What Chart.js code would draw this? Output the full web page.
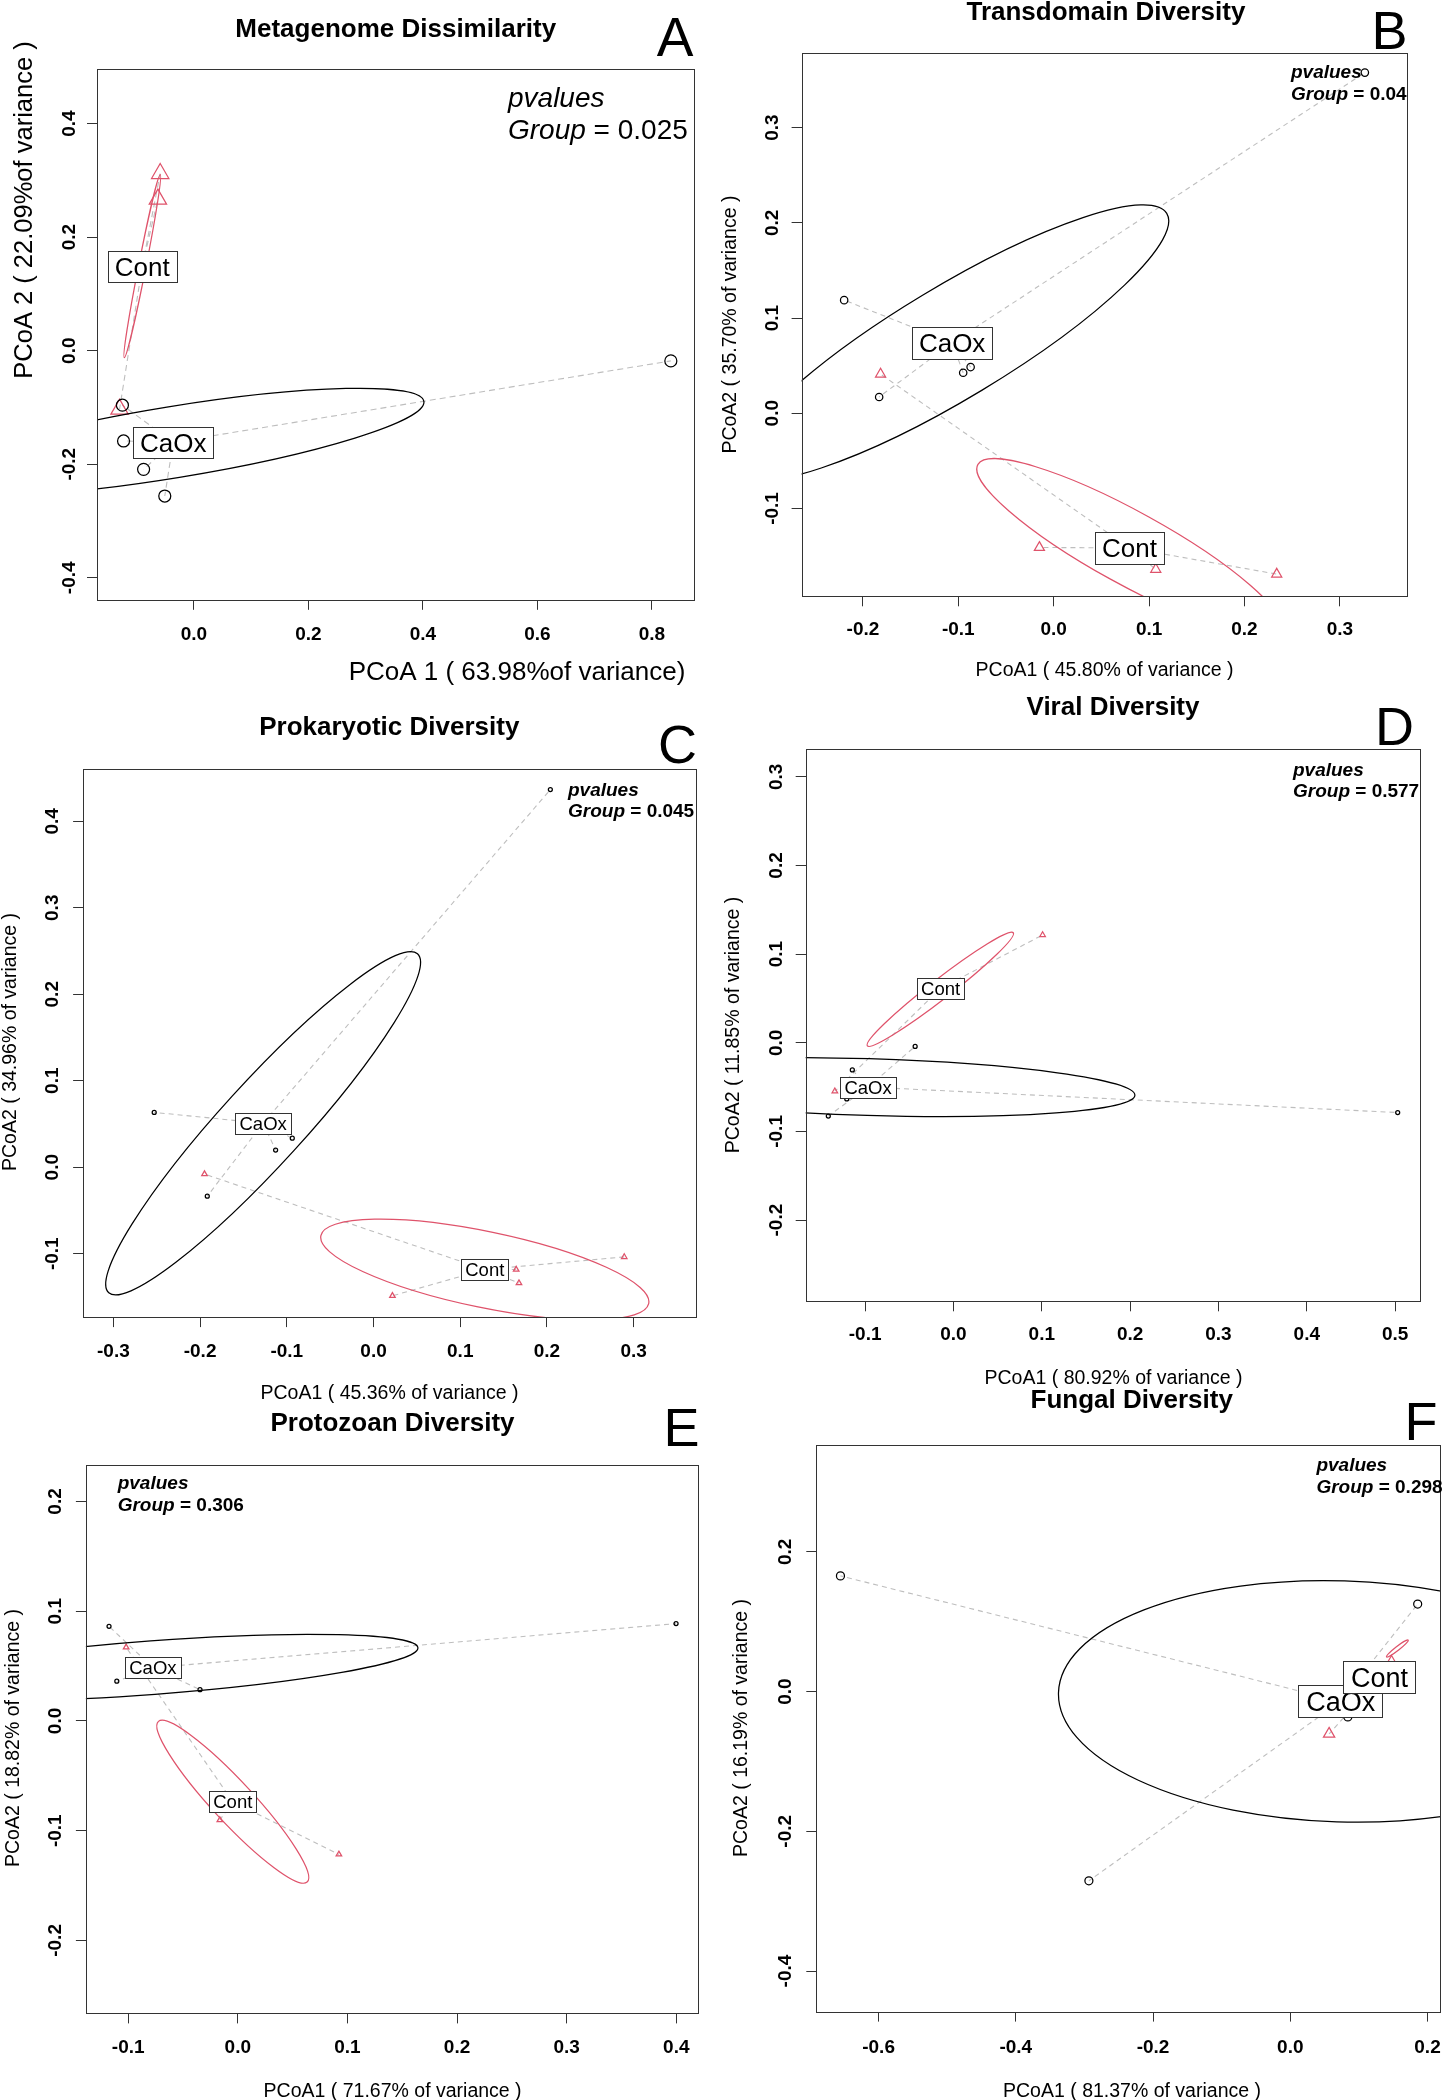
<!DOCTYPE html>
<html>
<head>
<meta charset="utf-8">
<script src="https://cdn.jsdelivr.net/npm/chart.js@4.4.1/dist/chart.umd.min.js"></script>
<style>
  body { margin: 0; background: #fff; }
  #page { position: relative; width: 1448px; height: 2100px; overflow: hidden; }
  #page canvas { position: absolute; }
</style>
</head>
<body>
<div id="page">
  <canvas id="pA"></canvas>
  <canvas id="pB"></canvas>
  <canvas id="pC"></canvas>
  <canvas id="pD"></canvas>
  <canvas id="pE"></canvas>
  <canvas id="pF"></canvas>
</div>
<script>
// ---------- data ----------

// A - Metagenome Dissimilarity
const aXRange = [-0.1694, 0.8726];
const aYRange = [-0.4388, 0.496];
const aXTicks = [0, 0.2, 0.4, 0.6, 0.8];
const aXTickLabels = ['0.0', '0.2', '0.4', '0.6', '0.8'];
const aYTicks = [-0.4, -0.2, 0, 0.2, 0.4];
const aYTickLabels = ['-0.4', '-0.2', '0.0', '0.2', '0.4'];
const aCaOxX = [0.833, -0.125, -0.123, -0.088, -0.051];
const aCaOxY = [-0.018, -0.096, -0.159, -0.209, -0.256];
const aContX = [-0.059, -0.063, -0.130];
const aContY = [0.312, 0.267, -0.103];
const aCaOxCentre = [-0.0363, -0.1612];
const aContCentre = [-0.0903, 0.1488];
// ellipse = centre x, centre y, first semi-axis (x, y), second semi-axis (x, y)
const aCaOxEllipse = [-0.0363, -0.1612, 0.4379, 0.0721, 0.0110, -0.0618];
const aContEllipse = [-0.0903, 0.1488, 0.0315, 0.1612, 0.0064, -0.0012];

// B - Transdomain Diversity
const bXRange = [-0.2643, 0.3708];
const bYRange = [-0.1923, 0.3786];
const bXTicks = [-0.2, -0.1, 0, 0.1, 0.2, 0.3];
const bXTickLabels = ['-0.2', '-0.1', '0.0', '0.1', '0.2', '0.3'];
const bYTicks = [-0.1, 0, 0.1, 0.2, 0.3];
const bYTickLabels = ['-0.1', '0.0', '0.1', '0.2', '0.3'];
const bCaOxX = [0.3262, -0.2197, -0.0949, -0.0871, -0.183];
const bCaOxY = [0.3578, 0.1188, 0.0425, 0.0485, 0.0171];
const bContX = [-0.1815, -0.015, 0.107, 0.2338];
const bContY = [0.0411, -0.141, -0.164, -0.169];
const bCaOxCentre = [-0.1065, 0.0740];
const bContCentre = [0.0794, -0.1415];
const bCaOxEllipse = [-0.1065, 0.0740, 0.225, 0.136, 0.031, -0.050];
const bContEllipse = [0.0794, -0.1415, 0.1588, -0.0878, -0.0199, -0.0328];

// C - Prokaryotic Diversity
const cXRange = [-0.3349, 0.3722];
const cYRange = [-0.1733, 0.4602];
const cXTicks = [-0.3, -0.2, -0.1, 0, 0.1, 0.2, 0.3];
const cXTickLabels = ['-0.3', '-0.2', '-0.1', '0.0', '0.1', '0.2', '0.3'];
const cYTicks = [-0.1, 0, 0.1, 0.2, 0.3, 0.4];
const cYTickLabels = ['-0.1', '0.0', '0.1', '0.2', '0.3', '0.4'];
const cCaOxX = [0.2039, -0.2529, -0.1129, -0.0937, -0.1917];
const cCaOxY = [0.4366, 0.0634, 0.0199, 0.0335, -0.0335];
const cContX = [-0.1949, 0.0218, 0.1645, 0.1677, 0.2891];
const cContY = [-0.0079, -0.1487, -0.1183, -0.134, -0.1037];
const cCaOxCentre = [-0.1273, 0.0508];
const cContCentre = [0.1283, -0.1183];
const cCaOxEllipse = [-0.1273, 0.0508, 0.178, 0.196, 0.0357, -0.0314];
const cContEllipse = [0.1283, -0.1183, 0.189, -0.0393, -0.00926, -0.0430];

// D - Viral Diversity
const dXRange = [-0.1673, 0.5285];
const dYRange = [-0.2916, 0.331];
const dXTicks = [-0.1, 0, 0.1, 0.2, 0.3, 0.4, 0.5];
const dXTickLabels = ['-0.1', '0.0', '0.1', '0.2', '0.3', '0.4', '0.5'];
const dYTicks = [-0.2, -0.1, 0, 0.1, 0.2, 0.3];
const dYTickLabels = ['-0.2', '-0.1', '0.0', '0.1', '0.2', '0.3'];
const dCaOxX = [0.5029, -0.0434, -0.1145, -0.1208, -0.1417];
const dCaOxY = [-0.0787, -0.0041, -0.0306, -0.0633, -0.0827];
const dContX = [0.1009, -0.1343];
const dContY = [0.1216, -0.0546];
const dCaOxCentre = [-0.0967, -0.05];
const dContCentre = [-0.0146, 0.0613];
const dCaOxEllipse = [-0.0967, -0.05, 0.3021, -0.0092, -0.00102, -0.0320];
const dContEllipse = [-0.0149, 0.0603, 0.0826, 0.0638, 0.0071, -0.0088];

// E - Protozoan Diversity
const eXRange = [-0.1386, 0.420];
const eYRange = [-0.2665, 0.2335];
const eXTicks = [-0.1, 0, 0.1, 0.2, 0.3, 0.4];
const eXTickLabels = ['-0.1', '0.0', '0.1', '0.2', '0.3', '0.4'];
const eYTicks = [-0.2, -0.1, 0, 0.1, 0.2];
const eYTickLabels = ['-0.2', '-0.1', '0.0', '0.1', '0.2'];
const eCaOxX = [0.3998, -0.1175, -0.1104, -0.0345];
const eCaOxY = [0.0887, 0.0862, 0.0362, 0.0285];
const eContX = [-0.1019, -0.0164, 0.0922];
const eContY = [0.0671, -0.0903, -0.1216];
const eCaOxCentre = [-0.0775, 0.0486];
const eContCentre = [-0.0046, -0.0736];
const eCaOxEllipse = [-0.0775, 0.0486, 0.2418, 0.0181, 0.00195, -0.0243];
const eContEllipse = [-0.0046, -0.0736, 0.0678, -0.0732, -0.0141, -0.0122];

// F - Fungal Diversity
const fXRange = [-0.6908, 0.2186];
const fYRange = [-0.4581, 0.3534];
const fXTicks = [-0.6, -0.4, -0.2, 0, 0.2];
const fXTickLabels = ['-0.6', '-0.4', '-0.2', '0.0', '0.2'];
const fYTicks = [-0.4, -0.2, 0, 0.2];
const fYTickLabels = ['-0.4', '-0.2', '0.0', '0.2'];
const fCaOxX = [-0.6556, -0.2935, 0.1857, 0.0839];
const fCaOxY = [0.1655, -0.2709, 0.1252, -0.0364];
const fContX = [0.0566, 0.1476];
const fContY = [-0.0607, 0.0422];
const fCaOxCentre = [0.0735, -0.0141];
const fContCentre = [0.1301, 0.0204];
const fCaOxEllipse = [0.0735, -0.0141, -0.4113, 0.0128, 0.0058, 0.1725];
const fContEllipse = [0.1561, 0.0616, 0.0158, 0.0121, 0.00183, -0.0022];

// texts
const panelTitles = ['Metagenome Dissimilarity', 'Transdomain Diversity', 'Prokaryotic Diversity',
                     'Viral Diversity', 'Protozoan Diversity', 'Fungal Diversity'];
const panelLetters = ['A', 'B', 'C', 'D', 'E', 'F'];
const xTitles = ['PCoA 1 ( 63.98%of variance)', 'PCoA1 ( 45.80% of variance )', 'PCoA1 ( 45.36% of variance )',
                 'PCoA1 ( 80.92% of variance )', 'PCoA1 ( 71.67% of variance )', 'PCoA1 ( 81.37% of variance )'];
const yTitles = ['PCoA 2 ( 22.09%of variance )', 'PCoA2 ( 35.70% of variance )', 'PCoA2 ( 34.96% of variance )',
                 'PCoA2 ( 11.85% of variance )', 'PCoA2 ( 18.82% of variance )', 'PCoA2 ( 16.19% of variance )'];
const groupPValues = ['0.025', '0.04', '0.045', '0.577', '0.306', '0.298'];
const groupNames = ['CaOx', 'Cont'];

// ---------- look ----------
const FONT = '"Liberation Sans", Arial, Helvetica, sans-serif';
const RED = '#DF536B';
const GREY = '#BEBEBE';
const INK = '#000';
const FRAME = '#333';
const LINE_W = 1.25;

// page-pixel layout of each panel
const layouts = [
  { canvas: {x: 0, y: 0, w: 714, h: 700}, box: {l: 97, r: 693.5, t: 69.1, b: 599.8},
    title: {x: 395.7, y: 37.4, size: 26}, letter: {x: 693.5, y: 56.3, size: 55},
    pval: {x: 508, y1: 107, y2: 139, size: 28, weight: 'normal'},
    xTitle: {x: 517, y: 680, size: 26}, yTitle: {x: 23, y: 210, size: 25.5},
    tickSize: 19, xTickY: 632.8, yTickX: 68.3,
    label: {size: 26, pad: 7, h: 31}, circleR: 6, triR: 10, dash: [6, 4] },
  { canvas: {x: 714, y: 0, w: 734, h: 690}, box: {l: 801.6, r: 1407.4, t: 52.8, b: 596.3},
    title: {x: 1105.9, y: 19.8, size: 26}, letter: {x: 1407.4, y: 49.3, size: 54},
    pval: {x: 1291, y1: 78.3, y2: 100.3, size: 19, weight: 'bold'},
    xTitle: {x: 1104.6, y: 676, size: 19.5}, yTitle: {x: 729, y: 324.6, size: 19.5},
    tickSize: 19, xTickY: 628.4, yTickX: 771.6,
    label: {size: 26, pad: 7, h: 31.5}, circleR: 3.7, triR: 5.8, dash: [5, 4] },
  { canvas: {x: 0, y: 700, w: 714, h: 705}, box: {l: 83.1, r: 696.3, t: 769.2, b: 1317.1},
    title: {x: 389.3, y: 735.3, size: 26}, letter: {x: 697, y: 763, size: 54},
    pval: {x: 568, y1: 796.4, y2: 816.8, size: 19, weight: 'bold'},
    xTitle: {x: 389.5, y: 1398.8, size: 19.5}, yTitle: {x: 9.5, y: 1042, size: 19.5},
    tickSize: 19, xTickY: 1350, yTickX: 50.8,
    label: {size: 18.5, pad: 4.2, h: 20.5}, circleR: 2, triR: 3.2, dash: [5, 4] },
  { canvas: {x: 714, y: 690, w: 734, h: 700}, box: {l: 805.7, r: 1420.3, t: 749.3, b: 1301.3},
    title: {x: 1113, y: 714.9, size: 26}, letter: {x: 1414, y: 745.2, size: 54},
    pval: {x: 1293, y1: 776, y2: 797.3, size: 19, weight: 'bold'},
    xTitle: {x: 1113.5, y: 1384, size: 19.5}, yTitle: {x: 732, y: 1025, size: 19.5},
    tickSize: 19, xTickY: 1333, yTickX: 774.8,
    label: {size: 18.5, pad: 4.2, h: 20.5}, circleR: 2, triR: 3.2, dash: [5, 4] },
  { canvas: {x: 0, y: 1405, w: 714, h: 695}, box: {l: 85.9, r: 698.2, t: 1464.7, b: 2013.4},
    title: {x: 392.5, y: 1431.3, size: 26}, letter: {x: 699.5, y: 1445.5, size: 54},
    pval: {x: 117.7, y1: 1489.3, y2: 1510.7, size: 19, weight: 'bold'},
    xTitle: {x: 392.6, y: 2096.7, size: 19.5}, yTitle: {x: 12.5, y: 1738, size: 19.5},
    tickSize: 19, xTickY: 2046.4, yTickX: 54.5,
    label: {size: 18.5, pad: 4.2, h: 20.5}, circleR: 2, triR: 3.2, dash: [5, 4] },
  { canvas: {x: 714, y: 1385, w: 734, h: 715}, box: {l: 816.3, r: 1447.3, t: 1444.6, b: 2011.6},
    title: {x: 1131.7, y: 1408, size: 26}, letter: {x: 1437.4, y: 1440.2, size: 54},
    pval: {x: 1316.4, y1: 1470.5, y2: 1492.9, size: 19, weight: 'bold'},
    xTitle: {x: 1132, y: 2096.7, size: 19.5}, yTitle: {x: 740, y: 1728, size: 19.5},
    tickSize: 19, xTickY: 2046, yTickX: 784,
    label: {size: 27, pad: 7.7, h: 32}, circleR: 4, triR: 6.5, dash: [5, 4] }
];

const panelData = [
  {xRange: aXRange, yRange: aYRange, xTicks: aXTicks, xLabels: aXTickLabels, yTicks: aYTicks, yLabels: aYTickLabels,
   caoxX: aCaOxX, caoxY: aCaOxY, contX: aContX, contY: aContY, caoxC: aCaOxCentre, contC: aContCentre,
   caoxE: aCaOxEllipse, contE: aContEllipse},
  {xRange: bXRange, yRange: bYRange, xTicks: bXTicks, xLabels: bXTickLabels, yTicks: bYTicks, yLabels: bYTickLabels,
   caoxX: bCaOxX, caoxY: bCaOxY, contX: bContX, contY: bContY, caoxC: bCaOxCentre, contC: bContCentre,
   caoxE: bCaOxEllipse, contE: bContEllipse},
  {xRange: cXRange, yRange: cYRange, xTicks: cXTicks, xLabels: cXTickLabels, yTicks: cYTicks, yLabels: cYTickLabels,
   caoxX: cCaOxX, caoxY: cCaOxY, contX: cContX, contY: cContY, caoxC: cCaOxCentre, contC: cContCentre,
   caoxE: cCaOxEllipse, contE: cContEllipse},
  {xRange: dXRange, yRange: dYRange, xTicks: dXTicks, xLabels: dXTickLabels, yTicks: dYTicks, yLabels: dYTickLabels,
   caoxX: dCaOxX, caoxY: dCaOxY, contX: dContX, contY: dContY, caoxC: dCaOxCentre, contC: dContCentre,
   caoxE: dCaOxEllipse, contE: dContEllipse},
  {xRange: eXRange, yRange: eYRange, xTicks: eXTicks, xLabels: eXTickLabels, yTicks: eYTicks, yLabels: eYTickLabels,
   caoxX: eCaOxX, caoxY: eCaOxY, contX: eContX, contY: eContY, caoxC: eCaOxCentre, contC: eContCentre,
   caoxE: eCaOxEllipse, contE: eContEllipse},
  {xRange: fXRange, yRange: fYRange, xTicks: fXTicks, xLabels: fXTickLabels, yTicks: fYTicks, yLabels: fYTickLabels,
   caoxX: fCaOxX, caoxY: fCaOxY, contX: fContX, contY: fContY, caoxC: fCaOxCentre, contC: fContCentre,
   caoxE: fCaOxEllipse, contE: fContEllipse}
];

// ---------- drawing helpers ----------
function font(size, weight, style) {
  return (style || 'normal') + ' ' + (weight || 'normal') + ' ' + size + 'px ' + FONT;
}

// ellipse from centre + two conjugate semi-axes, mapped through the chart scales
function drawEllipse(ctx, xs, ys, e, colour) {
  const cx = xs.getPixelForValue(e[0]), cy = ys.getPixelForValue(e[1]);
  const ux = xs.getPixelForValue(e[0] + e[2]) - cx, uy = ys.getPixelForValue(e[1] + e[3]) - cy;
  const vx = xs.getPixelForValue(e[0] + e[4]) - cx, vy = ys.getPixelForValue(e[1] + e[5]) - cy;
  ctx.save();
  ctx.transform(ux, uy, vx, vy, cx, cy);
  ctx.beginPath();
  ctx.arc(0, 0, 1, 0, Math.PI * 2);
  ctx.restore();
  ctx.strokeStyle = colour;
  ctx.lineWidth = LINE_W;
  ctx.stroke();
}

function boxedLabel(ctx, text, x, y, lab) {
  ctx.font = font(lab.size);
  const w = ctx.measureText(text).width + lab.pad * 2;
  const h = lab.h;
  const l = Math.round(x - w / 2) + 0.5, t = Math.round(y - h / 2) + 0.5;
  ctx.fillStyle = '#fff';
  ctx.fillRect(l, t, Math.round(w), Math.round(h));
  ctx.strokeStyle = FRAME;
  ctx.lineWidth = 1;
  ctx.strokeRect(l, t, Math.round(w), Math.round(h));
  ctx.fillStyle = INK;
  ctx.textAlign = 'center';
  ctx.textBaseline = 'alphabetic';
  ctx.fillText(text, x, y + lab.size * 0.358);
}

function upText(ctx, text, x, y, f, size) {
  ctx.save();
  ctx.translate(x, y);
  ctx.rotate(-Math.PI / 2);
  ctx.font = f;
  ctx.textAlign = 'center';
  ctx.textBaseline = 'alphabetic';
  ctx.fillText(text, 0, size * 0.358);
  ctx.restore();
}

function panelPlugin(i, lay, d) {
  return {
    id: 'panelDecor',
    afterDraw(chart) {
      const ctx = chart.ctx, xs = chart.scales.x, ys = chart.scales.y, a = chart.chartArea;
      const ox = lay.canvas.x, oy = lay.canvas.y;
      ctx.save();

      // ellipses, clipped to the plot box
      ctx.save();
      ctx.beginPath();
      ctx.rect(a.left, a.top, a.right - a.left, a.bottom - a.top);
      ctx.clip();
      drawEllipse(ctx, xs, ys, d.caoxE, INK);
      drawEllipse(ctx, xs, ys, d.contE, RED);
      ctx.restore();

      // frame
      ctx.strokeStyle = FRAME;
      ctx.lineWidth = 1;
      const fl = Math.round(a.left) + 0.5, ft = Math.round(a.top) + 0.5;
      ctx.strokeRect(fl, ft, Math.round(a.right) - Math.round(a.left), Math.round(a.bottom) - Math.round(a.top));

      // group labels at the spider centres
      boxedLabel(ctx, groupNames[0], xs.getPixelForValue(d.caoxC[0]), ys.getPixelForValue(d.caoxC[1]), lay.label);
      boxedLabel(ctx, groupNames[1], xs.getPixelForValue(d.contC[0]), ys.getPixelForValue(d.contC[1]), lay.label);

      ctx.fillStyle = INK;
      // tick labels
      const tf = font(lay.tickSize, 'bold');
      ctx.font = tf;
      ctx.textAlign = 'center';
      ctx.textBaseline = 'alphabetic';
      d.xTicks.forEach((v, k) => {
        ctx.fillText(d.xLabels[k], xs.getPixelForValue(v), lay.xTickY - oy + lay.tickSize * 0.358);
      });
      d.yTicks.forEach((v, k) => {
        upText(ctx, d.yLabels[k], lay.yTickX - ox, ys.getPixelForValue(v), tf, lay.tickSize);
      });

      // axis titles
      ctx.font = font(lay.xTitle.size);
      ctx.textAlign = 'center';
      ctx.fillText(xTitles[i], lay.xTitle.x - ox, lay.xTitle.y - oy);
      upText(ctx, yTitles[i], lay.yTitle.x - ox, lay.yTitle.y - oy, font(lay.yTitle.size), lay.yTitle.size);

      // main title and panel letter
      ctx.font = font(lay.title.size, 'bold');
      ctx.textAlign = 'center';
      ctx.fillText(panelTitles[i], lay.title.x - ox, lay.title.y - oy);
      ctx.font = font(lay.letter.size);
      ctx.textAlign = 'right';
      ctx.fillText(panelLetters[i], lay.letter.x - ox, lay.letter.y - oy);

      // p value note
      const p = lay.pval;
      ctx.textAlign = 'left';
      ctx.font = font(p.size, p.weight, 'italic');
      ctx.fillText('pvalues', p.x - ox, p.y1 - oy);
      ctx.fillText('Group', p.x - ox, p.y2 - oy);
      const gw = ctx.measureText('Group').width;
      ctx.font = font(p.size, p.weight);
      ctx.fillText(' = ' + groupPValues[i], p.x - ox + gw, p.y2 - oy);

      ctx.restore();
    }
  };
}

function spoke(c, x, y, dash) {
  return {
    data: [{x: c[0], y: c[1]}, {x: x, y: y}],
    showLine: true, borderColor: GREY, borderWidth: 1.1, borderDash: dash,
    pointRadius: 0, fill: false, order: 3
  };
}

function buildPanel(id, i) {
  const lay = layouts[i], d = panelData[i];
  const cv = document.getElementById(id);
  cv.width = lay.canvas.w;
  cv.height = lay.canvas.h;
  cv.style.left = lay.canvas.x + 'px';
  cv.style.top = lay.canvas.y + 'px';

  const datasets = [];
  d.caoxX.forEach((x, k) => datasets.push(spoke(d.caoxC, x, d.caoxY[k], lay.dash)));
  d.contX.forEach((x, k) => datasets.push(spoke(d.contC, x, d.contY[k], lay.dash)));
  datasets.push({
    data: d.caoxX.map((x, k) => ({x: x, y: d.caoxY[k]})),
    pointStyle: 'circle', pointRadius: lay.circleR, pointBorderWidth: LINE_W,
    pointBorderColor: INK, pointBackgroundColor: 'rgba(0,0,0,0)', showLine: false, order: 1
  });
  datasets.push({
    data: d.contX.map((x, k) => ({x: x, y: d.contY[k]})),
    pointStyle: 'triangle', pointRadius: lay.triR, pointBorderWidth: LINE_W,
    pointBorderColor: RED, pointBackgroundColor: 'rgba(0,0,0,0)', showLine: false, order: 1
  });

  const tickGrid = {display: true, drawOnChartArea: false, drawTicks: true, tickLength: 10, color: FRAME, lineWidth: 1};
  const box = lay.box, cvs = lay.canvas;

  new Chart(cv, {
    type: 'scatter',
    data: {datasets: datasets},
    options: {
      responsive: false,
      animation: false,
      events: [],
      layout: {padding: {
        left: box.l - cvs.x, right: cvs.x + cvs.w - box.r,
        top: box.t - cvs.y, bottom: cvs.y + cvs.h - box.b
      }},
      plugins: {legend: {display: false}, tooltip: {enabled: false}, title: {display: false}},
      scales: {
        x: {
          type: 'linear', min: d.xRange[0], max: d.xRange[1],
          afterBuildTicks: s => { s.ticks = d.xTicks.map(v => ({value: v})); },
          afterFit: s => { s.height = 0; },
          ticks: {display: false},
          grid: tickGrid,
          border: {display: false}
        },
        y: {
          type: 'linear', min: d.yRange[0], max: d.yRange[1],
          afterBuildTicks: s => { s.ticks = d.yTicks.map(v => ({value: v})); },
          afterFit: s => { s.width = 0; },
          ticks: {display: false},
          grid: tickGrid,
          border: {display: false}
        }
      }
    },
    plugins: [panelPlugin(i, lay, d)]
  });
}

['pA', 'pB', 'pC', 'pD', 'pE', 'pF'].forEach((id, i) => buildPanel(id, i));
</script>
</body>
</html>
